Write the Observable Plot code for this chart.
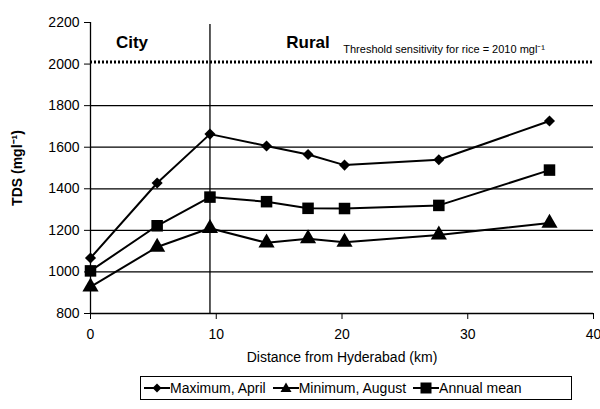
<!DOCTYPE html>
<html><head><meta charset="utf-8">
<script src="https://cdn.jsdelivr.net/npm/d3@7"></script>
<script src="https://cdn.jsdelivr.net/npm/@observablehq/plot@0.6"></script>
<style>
body{margin:0;background:#fff;font-family:"Liberation Sans",Arial,sans-serif;}
#legend{position:absolute;left:140px;top:376px;width:432px;height:24px;border:1px solid #000;box-sizing:border-box;display:flex;align-items:center;font-size:14px;padding-left:3px;}
#legend span{display:inline-flex;align-items:center;margin-right:7px;}
</style></head>
<body><div id="chart"></div><div id="legend"></div>
<script>
const distance = [0, 5.3, 9.5, 14, 17.3, 20.2, 27.7, 36.5];
const maxApril = [1067, 1428, 1663, 1606, 1565, 1514, 1540, 1726];
const minAugust = [928, 1120, 1210, 1140, 1160, 1143, 1178, 1235];
const annualMean = [1005, 1222, 1360, 1338, 1306, 1305, 1320, 1490];
const seriesNames = ["Maximum, April", "Minimum, August", "Annual mean"];
const seriesSymbols = ["diamond2", "triangle", "square"];
const seriesSizes = [5, 6, 6.5];
const threshold = 2010;
const boundaryKm = 9.5;
const xTicks = [0, 10, 20, 30, 40];
const yTicks = [800, 1000, 1200, 1400, 1600, 1800, 2000, 2200];
const gridValues = [1000, 1200, 1400, 1600, 1800];

const seriesValues = [maxApril, minAugust, annualMean];
const rows = seriesValues.flatMap((vals, i) => vals.map((v, j) => ({x: distance[j], y: v, s: seriesNames[i]})));

const font = "Liberation Sans, Arial, sans-serif";
const chart = Plot.plot({
  width: 600, height: 370,
  marginLeft: 90, marginRight: 7, marginTop: 22, marginBottom: 57,
  style: {fontFamily: font, fontSize: "13px", color: "#000", background: "#fff"},
  x: {domain: [0, 40]},
  y: {domain: [800, 2200]},
  marks: [
    Plot.ruleY(gridValues, {stroke: "#000", strokeWidth: 1.3}),
    Plot.ruleY([threshold], {stroke: "#000", strokeWidth: 3, strokeDasharray: "2,2"}),
    Plot.ruleX([boundaryKm], {y1: 800, y2: 2190, stroke: "#000", strokeWidth: 1.3}),
    Plot.ruleX([0], {y1: 800, y2: 2200, stroke: "#000", strokeWidth: 1.3}),
    Plot.ruleY([800], {stroke: "#000", strokeWidth: 1.3}),
    Plot.axisY({ticks: yTicks, tickFormat: d => String(d), tickSize: 6, tickPadding: 5, fontSize: 14, label: "TDS (mgl⁻¹)", labelAnchor: "center", labelArrow: "none", labelOffset: 78}),
    Plot.axisX({ticks: xTicks, tickFormat: d => String(d), tickSize: 6, tickPadding: 10, fontSize: 14, label: "Distance from Hyderabad (km)", labelAnchor: "center", labelArrow: "none", labelOffset: 48}),
    Plot.line(rows, {x: "x", y: "y", z: "s", stroke: "#000", strokeWidth: 2}),
    ...seriesNames.map((n, i) => Plot.dot(rows.filter(d => d.s === n), {x: "x", y: "y", symbol: seriesSymbols[i], r: seriesSizes[i], fill: "#000", stroke: "none"})),
    Plot.text([{x: 3.3, y: 2105, t: "City"}, {x: 17.3, y: 2105, t: "Rural"}], {x: "x", y: "y", text: "t", fontWeight: "bold", fontSize: 17}),
    Plot.text([{x: 20.1, y: 2072, t: "Threshold sensitivity for rice = 2010 mgl⁻¹"}], {x: "x", y: "y", text: "t", textAnchor: "start", fontSize: 11})
  ]
});
chart.querySelectorAll("g[aria-label='y-axis label'], g[aria-label='y-axis label'] text").forEach(e => { e.setAttribute("font-weight", "bold"); e.setAttribute("fill", "#000"); });
document.getElementById("chart").appendChild(chart);

const leg = document.getElementById("legend");
const legSym = {
  diamond2: '<path d="M13,2.5 L17.5,7 L13,11.5 L8.5,7Z"/>',
  triangle: '<path d="M13,1.5 L18.5,11 L7.5,11Z"/>',
  square: '<rect x="7.5" y="1.5" width="11" height="11"/>'
};
seriesNames.forEach((n, i) => {
  const s = document.createElement("span");
  s.innerHTML = `<svg width="26" height="14"><line x1="0" y1="7" x2="26" y2="7" stroke="#000" stroke-width="2"/>${legSym[seriesSymbols[i]]}</svg>${n}`;
  leg.appendChild(s);
});
</script></body></html>
